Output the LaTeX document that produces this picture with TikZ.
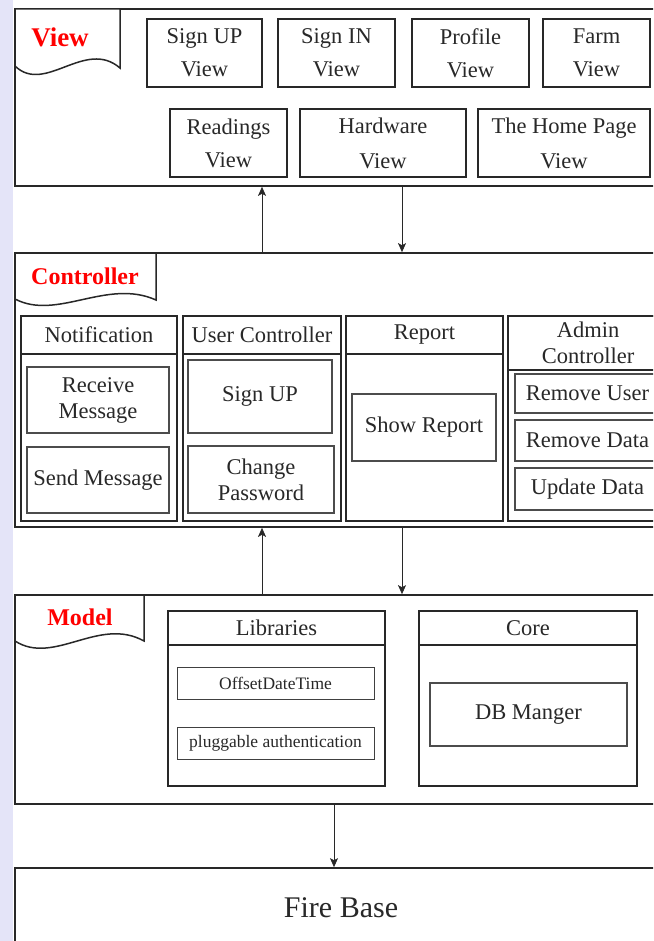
\documentclass[tikz,border=0pt]{standalone}
\usepackage{fontspec}
\setmainfont{Liberation Serif}
\usetikzlibrary{arrows.meta}
\definecolor{lav}{RGB}{228,228,248}
\definecolor{ink}{RGB}{40,40,40}
\definecolor{tagred}{RGB}{255,0,0}
\newcommand\fViewBox{\fontsize{22.5}{33}\selectfont}
\newcommand\fCtrl{\fontsize{22.5}{26}\selectfont}
\newcommand\fSmall{\fontsize{17.5}{21}\selectfont}
\newcommand\fBig{\fontsize{30}{36}\selectfont}
\tikzset{
  frame/.style={draw=ink, line width=1.7pt, fill=white, inner sep=0pt},
  vbox/.style={draw=ink, line width=1.6pt, align=center, font=\fViewBox, text=ink, inner sep=0pt},
  colbox/.style={draw=ink, line width=1.8pt, inner sep=0pt},
  colhead/.style={draw=ink, line width=1.8pt, align=center, font=\fCtrl, text=ink, inner sep=0pt},
  subbox/.style={draw=black!70, line width=1.2pt, align=center, font=\fCtrl, text=ink, inner sep=0pt},
  libbox/.style={draw=black!75, line width=1pt, align=center, font=\fSmall, text=ink, inner sep=0pt},
  tagline/.style={draw=ink, line width=1.5pt, fill=white},
  taglabel/.style={text=tagred, font=\bfseries},
  arr/.style={draw=ink, line width=0.8pt, -{Stealth[length=9pt,width=8pt,inset=2pt]}},
}
\begin{document}
\begin{tikzpicture}[x=1pt,y=-1pt]
\useasboundingbox (0,0) rectangle (653,941);
\clip (0,0) rectangle (653,941);
\fill[white] (0,0) rectangle (653,941);
\fill[lav] (0,0) rectangle (13,941);

% ---------- View layer ----------
\node[frame, minimum width=690pt, minimum height=177pt] (view) at (360,97.5) {};
\draw[tagline] (15,9) -- (120,9) -- (120,68) .. controls (85,38) and (45,95) .. (15,66) -- cycle;
\node[taglabel, font=\fontsize{27}{30}\selectfont\bfseries] (viewlbl) at (60,37) {View};

\node[vbox, minimum width=115pt, minimum height=68pt] (signupv) at (204.5,53) {Sign UP\\View};
\node[vbox, minimum width=117pt, minimum height=68pt] (signinv) at (336.5,53) {Sign IN\\View};
\node[vbox, minimum width=117pt, minimum height=68pt] (profilev) at (470.5,53) {Profile\\View};
\node[vbox, minimum width=107pt, minimum height=68pt] (farmv) at (596.5,53) {Farm\\View};
\node[vbox, minimum width=117pt, minimum height=68pt] (readv) at (228.5,143) {Readings\\View};
\node[vbox, minimum width=166pt, minimum height=68pt, font=\fontsize{22.5}{35}\selectfont] (hardv) at (383,143) {Hardware\\View};
\node[vbox, minimum width=172pt, minimum height=68pt, font=\fontsize{22.5}{35}\selectfont] (homev) at (564,143) {The Home Page\\View};

% ---------- Controller layer ----------
\node[frame, minimum width=690pt, minimum height=274pt] (ctrl) at (360,390) {};
\draw[tagline] (15,253) -- (156,253) -- (156,300) .. controls (107,278) and (57,321) .. (15,299) -- cycle;
\node[taglabel, font=\fontsize{24}{28}\selectfont\bfseries] (ctrllbl) at (85,276) {Controller};

\node[colbox, minimum width=156pt, minimum height=205pt] (notif) at (99,418.5) {};
\node[colhead, minimum width=156pt, minimum height=38pt, anchor=north] (notifh) at (notif.north) {Notification};
\node[subbox, minimum width=142pt, minimum height=66pt] (recv) at (98,400) {Receive\\Message};
\node[subbox, minimum width=142pt, minimum height=66pt] (send) at (98,480) {Send Message};

\node[colbox, minimum width=158pt, minimum height=205pt] (userc) at (262,418.5) {};
\node[colhead, minimum width=158pt, minimum height=38pt, anchor=north] (userch) at (userc.north) {User Controller};
\node[subbox, minimum width=144pt, minimum height=73pt] (signupc) at (260,396.5) {Sign UP};
\node[subbox, minimum width=146pt, minimum height=67pt] (chpw) at (261,479.5) {Change\\Password};

\node[colbox, minimum width=157pt, minimum height=205pt] (report) at (424.5,418.5) {};
\node[colhead, minimum width=157pt, minimum height=38pt, anchor=north] (reporth) at (report.north) {Report};
\node[subbox, minimum width=144pt, minimum height=67pt] (showrep) at (424,427.5) {Show Report};

\node[colbox, minimum width=160pt, minimum height=205pt] (admin) at (588,418.5) {};
\node[colhead, minimum width=160pt, minimum height=54pt, anchor=north] (adminh) at (admin.north) {Admin\\Controller};
\node[subbox, minimum width=145pt, minimum height=39pt] (rmuser) at (587.5,393.5) {Remove User};
\node[subbox, minimum width=145pt, minimum height=41pt] (rmdata) at (587.5,440.5) {Remove Data};
\node[subbox, minimum width=145pt, minimum height=42pt] (upd) at (587.5,489) {Update Data};

% ---------- Model layer ----------
\node[frame, minimum width=690pt, minimum height=209pt] (model) at (360,699.5) {};
\draw[tagline] (15,595) -- (144,595) -- (144,641) .. controls (99,616) and (54,666) .. (15,641) -- cycle;
\node[taglabel, font=\fontsize{24}{28}\selectfont\bfseries] (modellbl) at (80,617) {Model};

\node[colbox, minimum width=217pt, minimum height=175pt] (libs) at (276.5,698.5) {};
\node[colhead, minimum width=217pt, minimum height=34pt, anchor=north] (libsh) at (libs.north) {Libraries};
\node[libbox, minimum width=197pt, minimum height=32pt] (offset) at (275.5,683) {OffsetDateTime};
\node[libbox, minimum width=197pt, minimum height=32pt] (plug) at (275.5,743) {pluggable authentication};

\node[colbox, minimum width=218pt, minimum height=175pt] (core) at (528,698.5) {};
\node[colhead, minimum width=218pt, minimum height=34pt, anchor=north] (coreh) at (core.north) {Core};
\node[subbox, minimum width=197pt, minimum height=63pt] (dbm) at (528.5,714.5) {DB Manger};

% ---------- Fire Base ----------
\node[frame, minimum width=690pt, minimum height=150pt] (fire) at (360,943) {};
\node[font=\fBig, text=ink] (firetext) at (341,908) {Fire Base};

% ---------- Connectors ----------
\coordinate (upx) at (262,0);
\coordinate (downx) at (402,0);
\coordinate (fbx) at (334,0);
\draw[arr] (ctrl.north -| upx) -- (view.south -| upx);
\draw[arr] (view.south -| downx) -- (ctrl.north -| downx);
\draw[arr] (model.north -| upx) -- (ctrl.south -| upx);
\draw[arr] (ctrl.south -| downx) -- (model.north -| downx);
\draw[arr] (model.south -| fbx) -- (fire.north -| fbx);
\end{tikzpicture}
\end{document}
